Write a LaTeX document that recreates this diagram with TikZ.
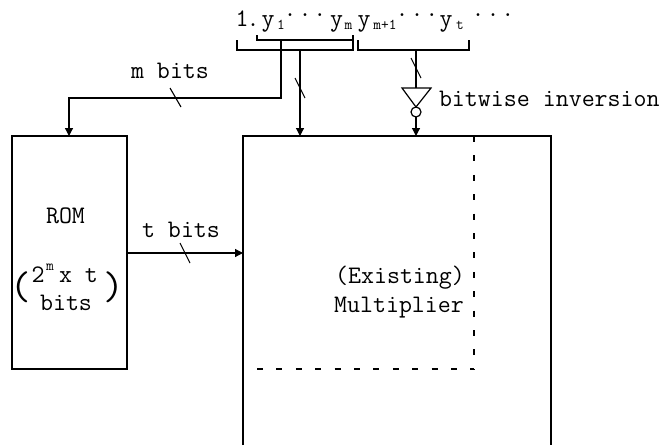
\documentclass[tikz,border=0pt]{standalone}
\usetikzlibrary{arrows.meta,calc}
\tikzset{
  wire/.style={line width=1.2pt,line cap=butt},
  arr/.style={wire,-{Triangle[length=8pt,width=8pt]}},
  thin wire/.style={line width=1.1pt},
  txt/.style={inner sep=0pt,outer sep=0pt,anchor=base,font=\ttfamily\fontsize{25.2}{26}\selectfont},
  sub/.style={inner sep=0pt,outer sep=0pt,anchor=base,font=\ttfamily\fontsize{15}{16}\selectfont},
  dotrow/.style={inner sep=0pt,outer sep=0pt,anchor=base,font=\ttfamily\fontsize{25.2}{26}\selectfont},
  paren/.style={inner sep=0pt,outer sep=0pt,anchor=base,font=\ttfamily\fontsize{40}{46}\selectfont},
  dash wire/.style={line width=1.2pt,dash pattern=on 6pt off 13.4pt},
  boxnode/.style={inner sep=0pt,outer sep=0pt},
}
\begin{document}
\begin{tikzpicture}[x=1pt,y=-1pt]
\useasboundingbox (0,0) rectangle (663,445);
% boxes
\node[boxnode,draw,line width=1.2pt,minimum width=115pt,minimum height=233pt] (rom) at (69.5,252.5) {};
\node[boxnode,minimum width=308pt,minimum height=309pt] (mult) at (397,290.5) {};
\draw[wire] (mult.south west) -- (mult.north west) -- (mult.north east) -- (mult.south east);
% dashed region
\coordinate (dtop) at (474,136);
\coordinate (dcorner) at (474,369);
\coordinate (dleft) at (257,369);
\draw[dash wire] (dtop) -- (dcorner);
\draw[dash wire] (dleft) -- (dcorner);
% top text
\node[txt] (one) at (242,26) {1};
\node[txt] (dot) at (253,26) {.};
\node[txt] (y1) at (268,26) {y};
\node[sub] (s1) at (281,29) {1};
\node[dotrow] (d1) at (305,16) {.\hspace{2pt}.\hspace{2pt}.};
\node[txt] (ym) at (336.5,26) {y};
\node[sub] (sm) at (348.5,29) {m};
\node[txt] (ym1) at (364,26) {y};
\node[sub] (sm1) at (385,29) {m+1};
\node[dotrow] (d2) at (417,16) {.\hspace{2pt}.\hspace{2pt}.};
\node[txt] (yt) at (446,26) {y};
\node[sub] (st) at (460,29) {t};
\node[dotrow] (d3) at (493,16) {.\hspace{2pt}.\hspace{2pt}.};
% brackets
\coordinate (a1) at (237,40); \coordinate (a2) at (237,50); \coordinate (a3) at (353,50); \coordinate (a4) at (353,35);
\coordinate (b1) at (257,35); \coordinate (b2) at (257,40);
\coordinate (c1) at (358,40); \coordinate (c2) at (358,50); \coordinate (c3) at (469,50); \coordinate (c4) at (469,40);
\draw[thin wire] (a1) -- (a2) -- (a3) -- (a4);
\draw[thin wire] (b1) -- (b2) -- (a4 |- b2);
\draw[thin wire] (c1) -- (c2) -- (c3) -- (c4);
% m bits
\coordinate (mstart) at (281,40);
\coordinate (mcorner) at (281,98);
\coordinate (mcorner2) at (69,98);
\draw[arr] (mstart) -- (mcorner) -- (mcorner2) -- (mcorner2 |- rom.north);
\node[txt] (mbits) at (170,78) {m bits};
\coordinate (ms1) at (170,88); \coordinate (ms2) at (181,107);
\draw[thin wire] (ms1) -- (ms2);
% middle
\coordinate (pstart) at (300,50);
\draw[arr] (pstart) -- (pstart |- mult.north);
\coordinate (ps1) at (295,78); \coordinate (ps2) at (305,98);
\draw[thin wire] (ps1) -- (ps2);
% inverter
\coordinate (istart) at (416,50);
\coordinate (itop) at (416,88);
\coordinate (il) at (402,88); \coordinate (ir) at (431,88);
\node[boxnode,circle,draw,line width=1.2pt,minimum size=10pt] (bub) at (416,112) {};
\draw[wire] (istart) -- (itop);
\draw[wire,line join=miter] (il) -- (ir) -- (bub.north) -- cycle;
\draw[arr] (bub.south) -- (bub.south |- mult.north);
\coordinate (is1) at (411,58); \coordinate (is2) at (421,78);
\draw[thin wire] (is1) -- (is2);
\node[txt,anchor=base west] (inv) at (439,106) {bitwise inversion};
% t bits
\draw[arr] (rom.east |- 0,253) -- (mult.west |- 0,253);
\node[txt] (tbits) at (181,237) {t bits};
\coordinate (ts1) at (180,243); \coordinate (ts2) at (190,263);
\draw[thin wire] (ts1) -- (ts2);
% ROM text
\node[txt] (romt) at (65.5,223) {ROM};
\node[txt] (two) at (38,282) {2};
\node[sub] (sup) at (50,270) {m};
\node[txt] (xt) at (78.5,282) {x t};
\node[txt] (bitst) at (66,310) {bits};
\node[paren] (lp) at (21,299) {(};
\node[paren] (rp) at (114,299) {)};
% multiplier text
\node[txt] (ex) at (400,283) {(Existing)};
\node[txt] (mu) at (399,312) {Multiplier};
\end{tikzpicture}
\end{document}
